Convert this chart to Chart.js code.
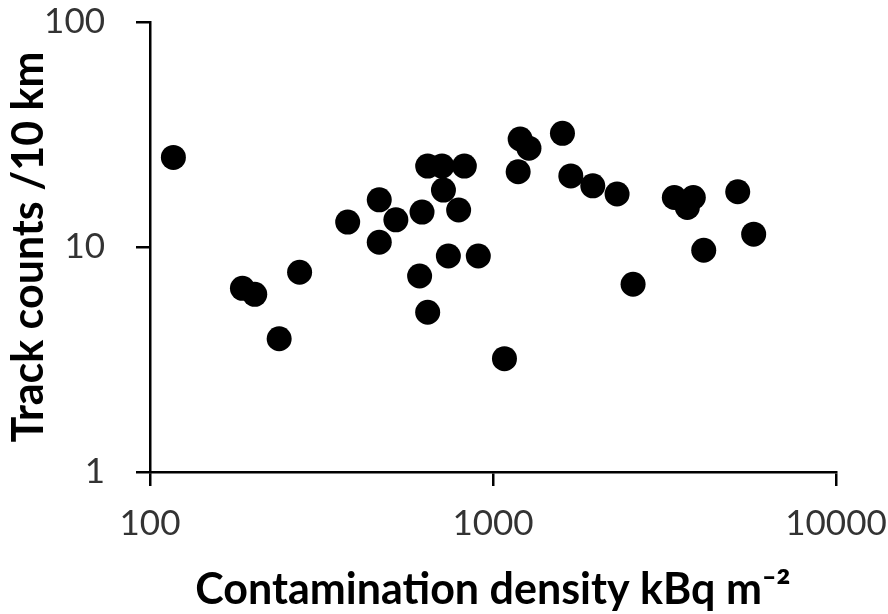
<!DOCTYPE html>
<html>
<head>
<meta charset="utf-8">
<script src="https://cdn.jsdelivr.net/npm/chart.js@4/dist/chart.umd.min.js"></script>
<style>
  html, body { margin: 0; padding: 0; background: #fff; }
  #wrap { width: 888px; height: 614px; }
</style>
</head>
<body>
<div id="wrap"><canvas id="scatter"></canvas></div>
<script>
// contamination density (kBq m-2) and track counts per 10 km
const density = [117, 186, 202, 238, 273, 377, 466, 466, 521, 621, 645, 710, 717, 825, 794, 611, 741, 906,
  645, 1080, 1200, 1273, 1184, 1594, 1686, 1954, 2300, 2561, 3378, 3837, 3686, 5170, 5754, 4115];
const trackCounts = [25.0, 6.55, 6.16, 3.91, 7.72, 12.9, 16.2, 10.5, 13.2, 14.3, 22.9, 22.9, 17.9, 22.9, 14.6, 7.43, 9.12, 9.12,
  5.13, 3.19, 30.2, 27.5, 21.6, 32.0, 20.7, 18.7, 17.2, 6.83, 16.6, 16.6, 15.0, 17.6, 11.4, 9.67];

const xTicks = [100, 1000, 10000];
const yTicks = [1, 10, 100];

const xTitle = 'Contamination density kBq m\u207B\u00B2';
const yTitle = 'Track counts /10 km';

let points = density.map((d, i) => ({ x: d, y: trackCounts[i] }));

const FONT = 'Lato';
const tickFont = { family: FONT, size: 35 };
const titleFont = { family: FONT, size: 43, weight: 'bold' };

// stop the scales from pushing the plot area in for overhanging labels
function noPad(s) {
  s.paddingTop = 0; s.paddingBottom = 0; s.paddingLeft = 0; s.paddingRight = 0;
}

const ctx = document.getElementById('scatter').getContext('2d');
new Chart(ctx, {
  type: 'scatter',
  data: {
    datasets: [{
      label: 'tracks',
      data: points,
      backgroundColor: '#000',
      borderWidth: 0,
      pointRadius: 12.5,
      pointHoverRadius: 12.5
    }]
  },
  options: {
    responsive: true,
    maintainAspectRatio: false,
    animation: false,
    events: [],
    layout: { padding: { top: 22, right: 52, left: 0, bottom: 0 } },
    plugins: { legend: { display: false }, tooltip: { enabled: false } },
    scales: {
      x: {
        type: 'logarithmic',
        min: 100,
        max: 10000,
        afterBuildTicks: s => { s.ticks = xTicks.map(v => ({ value: v })); },
        afterFit: s => { s.height = 142; noPad(s); },
        grid: { drawOnChartArea: false, drawTicks: true, tickLength: 14, color: '#000', lineWidth: 2.5 },
        border: { display: true, color: '#000', width: 2.5 },
        ticks: { color: '#333', font: tickFont, padding: 17, maxRotation: 0, autoSkip: false,
          callback: v => String(v) },
        title: { display: true, text: xTitle, color: '#000', font: titleFont, padding: { top: 0, bottom: -2 } }
      },
      y: {
        type: 'logarithmic',
        min: 1,
        max: 100,
        afterBuildTicks: s => { s.ticks = yTicks.map(v => ({ value: v })); },
        afterFit: s => { s.width = 150; noPad(s); },
        grid: { drawOnChartArea: false, drawTicks: true, tickLength: 14, color: '#000', lineWidth: 2.5 },
        border: { display: true, color: '#000', width: 2.5 },
        ticks: { color: '#333', font: tickFont, padding: 31, autoSkip: false,
          callback: v => String(v) },
        title: { display: true, text: yTitle, color: '#000', font: titleFont, padding: { top: 3, bottom: 0 } }
      }
    }
  }
});
</script>
</body>
</html>
